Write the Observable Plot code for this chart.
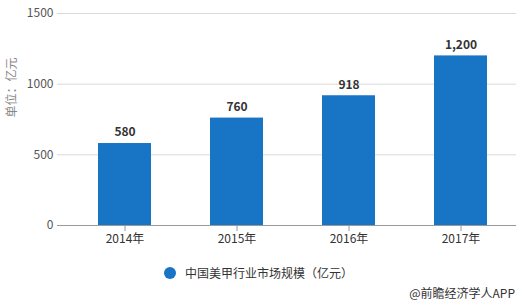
<!DOCTYPE html>
<html><head><meta charset="utf-8">
<script src="https://cdn.jsdelivr.net/npm/d3@7"></script>
<script src="https://cdn.jsdelivr.net/npm/@observablehq/plot@0.6"></script>
<style>
body{margin:0;background:#fff;font-family:"Noto Sans CJK SC","Noto Sans",sans-serif;}
#wrap{width:522px;height:306px;position:relative;overflow:hidden;}
#legend{position:absolute;left:164px;top:264px;font-size:12px;color:#333;display:flex;align-items:center;}
#legend .dot{width:12px;height:12px;border-radius:50%;background:#1874c4;margin-right:9px;}
#credit{position:absolute;right:7px;top:284px;font-size:12px;color:#333;}
</style></head>
<body><div id="wrap"><div id="chart"></div>
<div id="legend"><span class="dot"></span><span>中国美甲行业市场规模（亿元）</span></div>
<div id="credit">@前瞻经济学人APP</div></div>
<script>
const years = ["2014年","2015年","2016年","2017年"];
const values = [580, 760, 918, 1200];
const yTicks = [0, 500, 1000, 1500];
const data = years.map((y,i)=>({year:y, value:values[i]}));
const chart = Plot.plot({
  width: 522, height: 250,
  marginTop: 13, marginBottom: 25, marginLeft: 57, marginRight: 6,
  style: {fontFamily: '"Noto Sans CJK SC","Noto Sans",sans-serif', fontSize: "12px"},
  x: {domain: years, paddingInner: 0.53, paddingOuter: 0.3, align: 0.58, label: null},
  y: {domain: [0, 1500], ticks: yTicks, label: null},
  marks: [
    Plot.gridY(yTicks, {stroke: "#d9d9d9", strokeOpacity: 1}),
    Plot.axisY(yTicks, {tickSize: 0, tickPadding: 4, fill: "#555", fontSize: 12, label: null, tickFormat: d => String(d)}),
    Plot.text(["单位：亿元"], {frameAnchor: "left", dx: -45, dy: -2, rotate: -90, fill: "#888", fontSize: 12}),
    Plot.barY(data, {x: "year", y: "value", fill: "#1874c4"}),
    Plot.ruleY([0], {stroke: "#999"}),
    Plot.axisX({tickSize: 6, stroke: "#999", fill: "#333", tickPadding: 3, fontSize: 12, label: null}),
    Plot.text(data, {x: "year", y: "value", text: d => d3.format(",")(d.value), dy: -11, fill: "#333", fontWeight: "bold", fontSize: 12})
  ]
});
document.getElementById("chart").appendChild(chart);
</script></body></html>
